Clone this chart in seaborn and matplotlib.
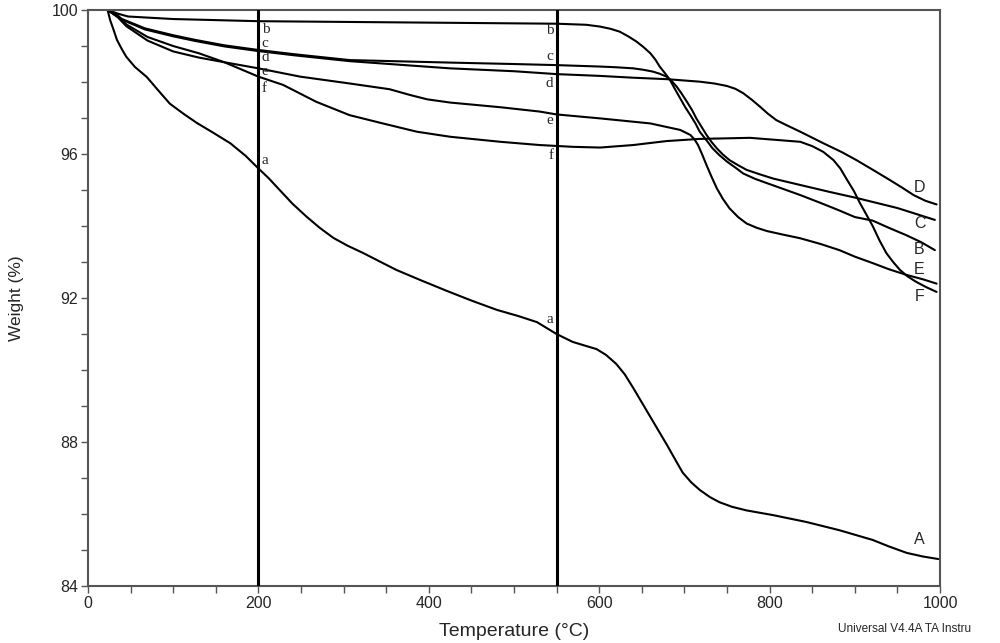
import numpy as np
import pandas as pd
import matplotlib
matplotlib.use("Agg")
import matplotlib.pyplot as plt
from matplotlib.ticker import MultipleLocator
import seaborn as sns

# TGA curves (temperature in degC, weight in %)
temp_A = [23, 26, 30, 34, 40, 45, 55, 69, 82, 96, 112, 128, 145, 167, 185, 200, 212, 225, 240,
          257, 272, 288, 305, 323, 342, 362, 390, 421, 450, 480, 505, 527, 550, 569, 583, 597,
          608, 620, 630, 640, 650, 660, 670, 680, 690, 698, 708, 718, 730, 741, 756, 773, 804,
          843, 882, 921, 940, 961, 980, 998]
weight_A = [100, 99.72, 99.45, 99.17, 98.9, 98.7, 98.42, 98.14, 97.78, 97.4, 97.12, 96.86, 96.62,
            96.3, 95.95, 95.6, 95.33, 95.0, 94.62, 94.25, 93.95, 93.67, 93.45, 93.25, 93.02,
            92.78, 92.5, 92.2, 91.93, 91.67, 91.5, 91.33, 91.0, 90.78, 90.68, 90.58, 90.42,
            90.17, 89.88, 89.5, 89.1, 88.7, 88.3, 87.9, 87.48, 87.15, 86.88, 86.67, 86.47, 86.33,
            86.2, 86.1, 85.97, 85.78, 85.55, 85.28, 85.1, 84.92, 84.82, 84.75]

temp_B = [23, 35, 47, 100, 200, 300, 400, 500, 550, 585, 601, 613, 624, 634, 644, 652, 660, 666,
          671, 677, 683, 689, 695, 701, 707, 713, 718, 726, 733, 741, 750, 760, 769, 783, 797,
          816, 836, 860, 880, 900, 921, 940, 960, 978, 994]
weight_B = [100, 99.9, 99.82, 99.75, 99.69, 99.67, 99.65, 99.63, 99.62, 99.59, 99.54, 99.48,
            99.4, 99.27, 99.12, 98.97, 98.8, 98.62, 98.43, 98.25, 98.06, 97.8, 97.55, 97.3,
            97.08, 96.85, 96.62, 96.38, 96.16, 95.97, 95.79, 95.62, 95.46, 95.31, 95.19, 95.03,
            94.86, 94.64, 94.45, 94.25, 94.15, 93.95, 93.75, 93.55, 93.33]

temp_C = [23, 40, 67, 100, 126, 160, 200, 243, 307, 425, 500, 550, 601, 620, 640, 652, 663, 671,
          679, 685, 691, 697, 703, 709, 714, 720, 726, 732, 738, 745, 753, 763, 773, 788, 804,
          820, 836, 870, 902, 950, 994]
weight_C = [100, 99.75, 99.49, 99.3, 99.17, 99.02, 98.89, 98.77, 98.61, 98.54, 98.5, 98.47,
            98.43, 98.41, 98.38, 98.34, 98.29, 98.23, 98.15, 98.03, 97.87, 97.67, 97.45, 97.22,
            96.99, 96.76, 96.53, 96.33, 96.16, 95.99, 95.83, 95.69, 95.56, 95.44, 95.32, 95.23,
            95.14, 94.95, 94.78, 94.5, 94.17]

temp_D = [23, 40, 67, 100, 126, 160, 200, 243, 307, 425, 500, 550, 601, 640, 679, 718, 735, 750,
          760, 769, 779, 789, 798, 808, 820, 836, 863, 885, 902, 922, 941, 956, 969, 983, 996]
weight_D = [100, 99.73, 99.46, 99.27, 99.14, 98.99, 98.86, 98.74, 98.58, 98.38, 98.3, 98.22,
            98.17, 98.12, 98.08, 98.01, 97.96, 97.89, 97.81, 97.69, 97.51, 97.31, 97.12, 96.94,
            96.8, 96.62, 96.3, 96.05, 95.83, 95.55, 95.28, 95.06, 94.86, 94.7, 94.6]

temp_E = [23, 35, 45, 70, 100, 130, 160, 200, 249, 307, 354, 378, 398, 425, 484, 530, 550, 601,
          660, 695, 707, 712, 716, 721, 726, 732, 738, 745, 753, 763, 773, 785, 797, 816, 836,
          860, 882, 900, 921, 940, 961, 980, 996]
weight_E = [100, 99.8, 99.55, 99.15, 98.85, 98.68, 98.55, 98.38, 98.15, 97.96, 97.8, 97.64,
            97.52, 97.43, 97.3, 97.18, 97.1, 96.99, 96.85, 96.67, 96.53, 96.4, 96.25, 95.98,
            95.69, 95.36, 95.05, 94.76, 94.49, 94.25, 94.07, 93.95, 93.86, 93.76, 93.66, 93.5,
            93.33, 93.15, 92.97, 92.8, 92.64, 92.52, 92.4]

temp_F = [23, 35, 45, 70, 100, 130, 160, 200, 229, 268, 307, 346, 386, 425, 484, 530, 569, 601,
          640, 679, 718, 777, 836, 850, 863, 875, 883, 891, 899, 906, 914, 921, 929, 937, 945,
          953, 962, 972, 984, 996]
weight_F = [100, 99.85, 99.6, 99.25, 99.0, 98.8, 98.55, 98.15, 97.92, 97.45, 97.08, 96.85,
            96.62, 96.48, 96.34, 96.25, 96.2, 96.18, 96.25, 96.36, 96.42, 96.45, 96.34, 96.22,
            96.06, 95.83, 95.6, 95.28, 94.97, 94.64, 94.3, 94.0, 93.6, 93.25, 93.0, 92.78, 92.6,
            92.45, 92.3, 92.17]

curve_names = ["A", "B", "C", "D", "E", "F"]
marker_temps = [200, 550]

# letters written beside the two marker lines, and the curve names at the right end
letters_200 = ["b", "c", "d", "e", "f", "a"]
letters_200_y = [99.46, 99.08, 98.67, 98.28, 97.83, 95.83]
letters_550 = ["b", "c", "d", "e", "f", "a"]
letters_550_y = [99.44, 98.72, 97.97, 96.92, 95.97, 91.39]
end_labels = ["D", "C", "B", "E", "F", "A"]
end_labels_y = [95.06, 94.08, 93.36, 92.8, 92.03, 85.28]

frames = []
for name, t, w in zip(curve_names,
                      [temp_A, temp_B, temp_C, temp_D, temp_E, temp_F],
                      [weight_A, weight_B, weight_C, weight_D, weight_E, weight_F]):
    frames.append(pd.DataFrame({"temp": t, "weight": w, "sample": name}))
df = pd.concat(frames, ignore_index=True)

sns.set_style("ticks")
plt.rcParams["font.family"] = ["Liberation Sans", "DejaVu Sans"]

fig = plt.figure(figsize=(10, 6.43), dpi=100)
ax = fig.add_axes([0.088, 0.0886, 0.852, 0.8958])

sns.lineplot(data=df, x="temp", y="weight", units="sample", estimator=None,
             color="black", lw=1.5, sort=False, ax=ax, legend=False)

for t in marker_temps:
    ax.axvline(t, color="black", lw=2.2, zorder=3)

for lab, y in zip(letters_200, letters_200_y):
    ax.text(204, y, lab, family="Liberation Serif", fontsize=11, ha="left", va="center")
for lab, y in zip(letters_550, letters_550_y):
    ax.text(546, y, lab, family="Liberation Serif", fontsize=11, ha="right", va="center")
for lab, y in zip(end_labels, end_labels_y):
    ax.text(976, y, lab, fontsize=11.5, ha="center", va="center")

ax.set_xlim(0, 1000)
ax.set_ylim(84, 100)
ax.xaxis.set_major_locator(MultipleLocator(200))
ax.xaxis.set_minor_locator(MultipleLocator(50))
ax.yaxis.set_major_locator(MultipleLocator(4))
ax.yaxis.set_minor_locator(MultipleLocator(1))
ax.tick_params(which="both", direction="out", length=5, width=1, color="#555555",
               labelsize=11.5, pad=2)

for side in ["left", "bottom", "top", "right"]:
    ax.spines[side].set_color("#555555")
    ax.spines[side].set_linewidth(1.5)

ax.set_xlabel("Temperature (°C)", fontsize=14, labelpad=9)
ax.set_ylabel("Weight (%)", fontsize=12.5, labelpad=20)

fig.text(0.838, 0.022, "Universal V4.4A TA Instru", fontsize=8.5, ha="left", va="center")

fig.savefig("out.png", dpi=100)
